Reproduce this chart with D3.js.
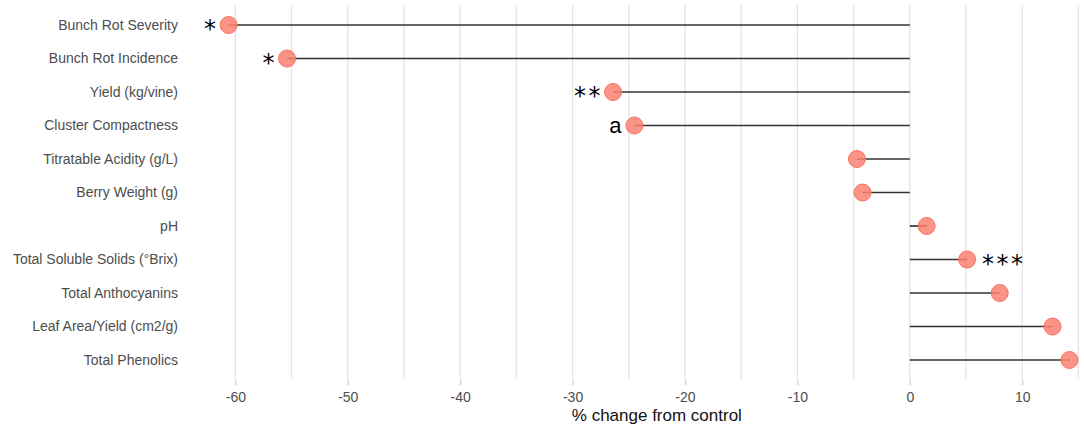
<!DOCTYPE html>
<html lang="en">
  <head>
    <meta charset="utf-8">
    <title>Lollipop chart</title>
    <script src="https://cdn.jsdelivr.net/npm/d3@7"></script>
    <style>
      body { margin: 0; background: white; }
      text { font-family: Arial, "Liberation Sans", sans-serif; }
    </style>
  </head>
  <body>
    <script>

      // data
      var categories = ["Bunch Rot Severity", "Bunch Rot Incidence", "Yield (kg/vine)",
                        "Cluster Compactness", "Titratable Acidity (g/L)", "Berry Weight (g)",
                        "pH", "Total Soluble Solids (°Brix)", "Total Anthocyanins",
                        "Leaf Area/Yield (cm2/g)", "Total Phenolics"];
      var values = [-60.6, -55.4, -26.4, -24.5, -4.7, -4.2, 1.5, 5.1, 8.0, 12.7, 14.2];
      var marks = ["*", "*", "**", "a", "", "", "", "***", "", "", ""];
      var majorTicks = [-60, -50, -40, -30, -20, -10, 0, 10];
      var minorTicks = [-55, -45, -35, -25, -15, -5, 5, 15];

      var width = 1084;
      var height = 429;
      var panelTop = 5;
      var panelBottom = 379;

      var svg = d3.select("body")
        .append("svg")
        .attr("width", width)
        .attr("height", height);

      var x = d3.scaleLinear()
        .domain([-64.3, 17.9])
        .range([187, 1111]);

      var y = d3.scalePoint()
        .domain(categories)
        .range([25, 360]);

      // vertical grid lines
      svg.append("g")
        .selectAll("line")
        .data(majorTicks.concat(minorTicks))
        .enter()
        .append("line")
        .attr("x1", function(d) { return x(d); })
        .attr("x2", function(d) { return x(d); })
        .attr("y1", panelTop)
        .attr("y2", panelBottom)
        .attr("stroke", "#e3e3e3")
        .attr("stroke-width", 1.3);

      // x axis (plain hyphen for negatives, like the original)
      var xAxis = d3.axisBottom(x)
        .tickValues(majorTicks)
        .tickSize(5)
        .tickPadding(7)
        .tickFormat(function(d) { return String(d); });

      var gx = svg.append("g")
        .attr("transform", "translate(0," + (panelBottom + 1) + ")")
        .call(xAxis);
      gx.select(".domain").remove();
      gx.selectAll(".tick line").attr("stroke", "#cfcfcf").attr("stroke-width", 1.3);
      gx.selectAll(".tick text")
        .attr("fill", "#4d4d4d")
        .style("font-size", "14px")
        .style("font-family", "Arial, 'Liberation Sans', sans-serif");

      // category labels
      svg.append("g")
        .selectAll("text")
        .data(categories)
        .enter()
        .append("text")
        .attr("x", 178)
        .attr("y", function(d) { return y(d); })
        .attr("dy", "0.35em")
        .attr("text-anchor", "end")
        .attr("fill", "#4d4d4d")
        .style("font-size", "14px")
        .text(function(d) { return d; });

      // segments from zero
      svg.append("g")
        .selectAll("line")
        .data(values)
        .enter()
        .append("line")
        .attr("x1", x(0))
        .attr("x2", function(d) { return x(d); })
        .attr("y1", function(d, i) { return y(categories[i]); })
        .attr("y2", function(d, i) { return y(categories[i]); })
        .attr("stroke", "#333333")
        .attr("stroke-width", 1.7);

      // points
      svg.append("g")
        .selectAll("circle")
        .data(values)
        .enter()
        .append("circle")
        .attr("cx", function(d) { return x(d); })
        .attr("cy", function(d, i) { return y(categories[i]); })
        .attr("r", 8.5)
        .attr("fill", "#fa8072")
        .attr("fill-opacity", 0.85)
        .attr("stroke", "#f7735f")
        .attr("stroke-width", 1);

      // significance marks
      svg.append("g")
        .selectAll("text")
        .data(values)
        .enter()
        .append("text")
        .attr("x", function(d, i) {
          if (d >= 0) return x(d) + 15;
          // letter-spacing trails the last glyph, so pull end-anchored stars back
          return marks[i] === "a" ? x(d) - 13 : x(d) - 10;
        })
        .attr("y", function(d, i) {
          return y(categories[i]) + (marks[i] === "a" ? 7 : 12);
        })
        .attr("text-anchor", function(d) { return d < 0 ? "end" : "start"; })
        .attr("fill", "black")
        .style("font-family", function(d, i) {
          return marks[i] === "a" ? "Arial, 'Liberation Sans', sans-serif" : "'DejaVu Sans', sans-serif";
        })
        .style("font-size", function(d, i) { return marks[i] === "a" ? "22px" : "24px"; })
        .style("letter-spacing", function(d, i) { return marks[i] === "a" ? "0px" : "2.5px"; })
        .text(function(d, i) { return marks[i]; });

      // x label
      svg.append("text")
        .attr("x", x(-22.5))
        .attr("y", 421)
        .attr("text-anchor", "middle")
        .attr("fill", "#111")
        .style("font-size", "17px")
        .text("% change from control");

    </script>
  </body>
</html>
